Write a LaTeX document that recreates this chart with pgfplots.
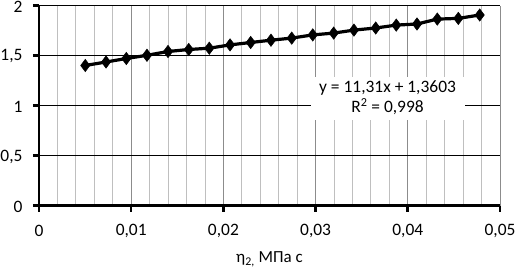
\documentclass[border=0pt]{standalone}
\usepackage{pgfplots}
\pgfplotsset{compat=1.18}
\usepackage{fontspec}
\setmainfont{Carlito}
\begin{document}
\begin{tikzpicture}
\path[use as bounding box] (-39bp,-63.5bp) rectangle (476bp,205.5bp);
\begin{axis}[
  at={(0,0)}, anchor=south west,
  scale only axis, width=461bp, height=200bp,
  xmin=0, xmax=0.05, ymin=0, ymax=2,
  axis x line=bottom, axis y line=left,
  axis line style={-, line width=2.6bp, black},
  xtick={0,0.01,0.02,0.03,0.04,0.05},
  xticklabels={0,{0,01},{0,02},{0,03},{0,04},{0,05}},
  ytick={0,0.5,1,1.5,2},
  yticklabels={0,{0,5},1,{1,5},2},
  scaled x ticks=false, scaled y ticks=false,
  minor x tick num=4,
  xmajorgrids, xminorgrids, ymajorgrids,
  major x grid style={draw=black!45, line width=0.9bp},
  minor x grid style={draw=black!25, line width=0.9bp},
  major y grid style={draw=black, line width=0.9bp},
  tick align=outside,
  major tick length=6bp, minor tick length=0pt,
  major tick style={black, line width=2.6bp},
  xticklabel style={font=\fontsize{17.5}{20}\selectfont, anchor=center, yshift=-19bp},
  yticklabel style={font=\fontsize{17.5}{20}\selectfont, anchor=east, xshift=-7bp, yshift=-1bp},
  xlabel={η\textsubscript{2,} МПа с},
  xlabel style={font=\fontsize{17}{19}\selectfont, at={(axis description cs:0.5,-0.27)}, anchor=center},
  clip=false,
]
\addplot[black, line width=3.2bp, mark=diamond*, mark size=6.2bp, mark options={line width=0.5bp, fill=black}] coordinates {
(0.00502,1.400) (0.00727,1.435) (0.00947,1.470) (0.01171,1.502) (0.01399,1.540)
(0.01624,1.560) (0.01847,1.573) (0.02072,1.606) (0.02296,1.630) (0.02516,1.653)
(0.02741,1.674) (0.02969,1.706) (0.03196,1.724) (0.03416,1.754) (0.03652,1.775)
(0.03875,1.804) (0.04100,1.815) (0.04320,1.864) (0.04548,1.871) (0.04780,1.905)
};
\node[fill=white, minimum width=154bp, minimum height=43bp, inner sep=0pt, align=center,
  font=\fontsize{17.5}{20}\selectfont] at (axis cs:0.0378,1.075) {y = 11,31x + 1,3603\\R\textsuperscript{2} = 0,998};
\end{axis}
\end{tikzpicture}
\end{document}
